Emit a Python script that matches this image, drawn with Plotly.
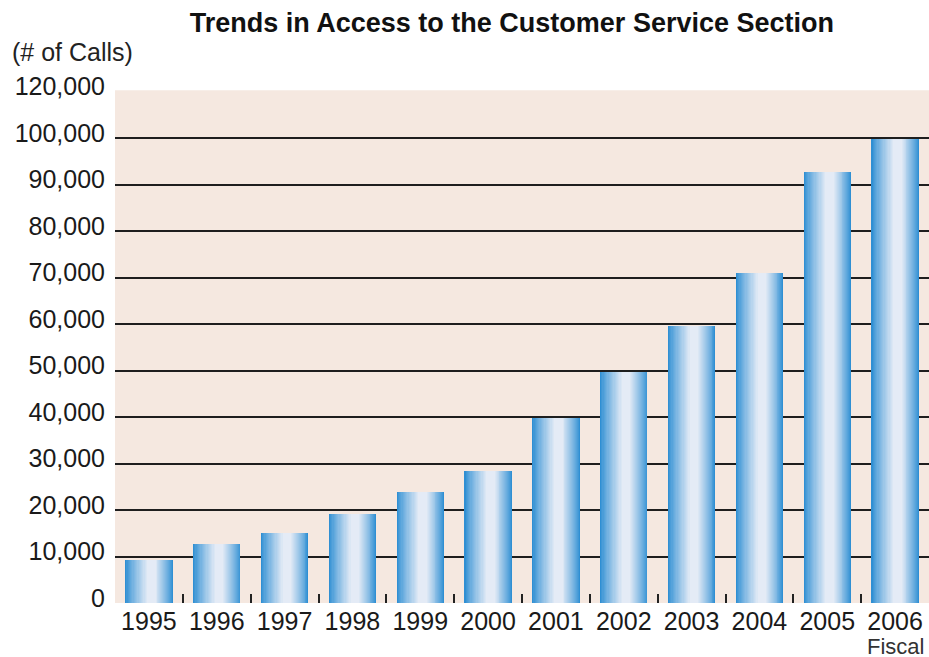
import plotly.graph_objects as go

# ---- data ----
years = [1995, 1996, 1997, 1998, 1999, 2000, 2001, 2002, 2003, 2004, 2005, 2006]
calls = [9250, 12600, 15050, 19200, 23850, 28450, 39700, 49750, 59700, 70950, 92700, 99850]
ytick_vals = [0, 10000, 20000, 30000, 40000, 50000, 60000, 70000, 80000, 90000, 100000, 110000]
ytick_text = ["0", "10,000", "20,000", "30,000", "40,000", "50,000", "60,000",
              "70,000", "80,000", "90,000", "100,000", "120,000"]
grid_vals = [10000, 20000, 30000, 40000, 50000, 60000, 70000, 80000, 90000, 100000]
boundaries = [y + 0.5 for y in years[:-1]]
plot_top = 110300  # value where the shaded plot area ends

title = "Trends in Access to the Customer Service Section"
FONT = "Liberation Sans, Arial, Helvetica, sans-serif"

# ---- gradient bars via nested overlay layers ----
dark = (47, 143, 211)
light = (228, 235, 246)
BAR_W = 0.7
K = 18
fig = go.Figure()
for k in range(K + 1):
    s = k / K
    f = s ** 0.85
    col = tuple(round(dark[i] + (light[i] - dark[i]) * f) for i in range(3))
    a = 0.46 * s          # left edge fraction
    b = 1 - 0.36 * s      # right edge fraction
    if b - a < 0.02:
        continue
    fig.add_trace(go.Bar(
        x=years, y=calls,
        width=(b - a) * BAR_W,
        offset=-BAR_W / 2 + a * BAR_W,
        marker=dict(color="rgb(%d,%d,%d)" % col, line=dict(width=0)),
        hoverinfo="skip", showlegend=False,
    ))

YR = [0, 112950]
SHIFT = 1100  # tick labels sit slightly above their gridlines

fig.update_layout(
    width=929, height=657,
    margin=dict(l=115, r=0, t=78, b=54),
    paper_bgcolor="white",
    plot_bgcolor="white",
    barmode="overlay",
    bargap=0,
    showlegend=False,
    hovermode=False,
    title=dict(text=title, x=0.551, xanchor="center", xref="container",
               y=1 - 23 / 657, yref="container", yanchor="middle",
               font=dict(family=FONT, size=27, color="#111", weight="bold")),
    xaxis=dict(
        range=[years[0] - 0.5, years[-1] + 0.5],
        tickmode="array", tickvals=years, ticktext=[str(y) for y in years],
        ticks="", showgrid=False, zeroline=False, showline=False,
        tickfont=dict(family=FONT, size=25, color="#1a1a1a"),
        ticklabelstandoff=1,
        minor=dict(tickmode="array", tickvals=boundaries, ticks="inside",
                   ticklen=9, tickwidth=2, tickcolor="#222", showgrid=False),
    ),
    yaxis=dict(
        range=YR, tickmode="array", tickvals=grid_vals,
        showticklabels=False, ticks="",
        showgrid=True, gridcolor="#1e1e1e", gridwidth=2,
        zeroline=False, showline=False,
    ),
    yaxis2=dict(
        overlaying="y", side="left", anchor="x",
        range=[YR[0] - SHIFT, YR[1] - SHIFT],
        tickmode="array", tickvals=ytick_vals, ticktext=ytick_text,
        showgrid=False, zeroline=False, showline=False, ticks="",
        tickfont=dict(family=FONT, size=25, color="#1a1a1a"),
        ticklabelstandoff=9,
    ),
    shapes=[
        dict(type="rect", xref="paper", yref="y", x0=0, x1=1, y0=0, y1=plot_top,
             fillcolor="#f5e8e0", line=dict(width=0), layer="below"),
    ],
    annotations=[
        dict(text="(# of Calls)", xref="paper", yref="paper",
             x=-105 / 814, y=1 + 26 / 525, xanchor="left", yanchor="middle",
             showarrow=False, font=dict(family=FONT, size=25, color="#222")),
        dict(text="Fiscal", xref="paper", yref="paper",
             x=0.995, y=-43 / 525, xanchor="right", yanchor="middle",
             showarrow=False, borderpad=0,
             font=dict(family=FONT, size=22, color="#333")),
    ],
)
# invisible trace so the label axis is rendered
fig.add_trace(go.Scatter(x=[years[0]], y=[0], yaxis="y2", mode="markers",
                         marker=dict(opacity=0), hoverinfo="skip", showlegend=False))

fig.write_html("out.html")
